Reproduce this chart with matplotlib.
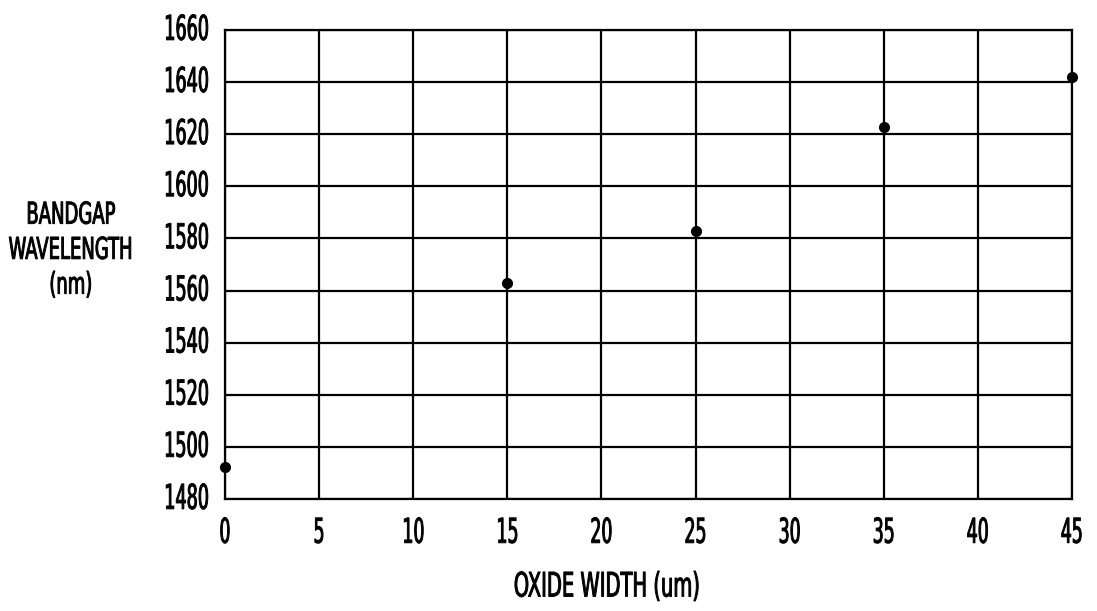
import matplotlib
matplotlib.use("Agg")
import matplotlib.pyplot as plt
from matplotlib import font_manager
from matplotlib.patheffects import AbstractPathEffect
from matplotlib.transforms import Affine2D

# data
oxide_width = [0, 15, 25, 35, 45]
bandgap_nm = [1492.4, 1563, 1583, 1622.7, 1642]
x_ticks = [0, 5, 10, 15, 20, 25, 30, 35, 40, 45]
y_ticks = [1480, 1500, 1520, 1540, 1560, 1580, 1600, 1620, 1640, 1660]


class Squeeze(AbstractPathEffect):
    # reshape the glyphs: the reference lettering is tall and very condensed,
    # strokes a bit heavier like the scanned original
    def __init__(self, sx, sy=1.0, anchor="center", lw=0.7, dy=0.0):
        super().__init__()
        self.sx = sx
        self.sy = sy
        self.anchor = anchor
        self.lw = lw
        self.dy = dy

    def draw_path(self, renderer, gc, tpath, affine, rgbFace=None):
        ext = tpath.get_extents()
        if self.anchor == "right":
            cx = ext.x1
        elif self.anchor == "left":
            cx = ext.x0
        else:
            cx = (ext.x0 + ext.x1) / 2
        cy = (ext.y0 + ext.y1) / 2
        aff = (Affine2D().translate(-cx, -cy).scale(self.sx, self.sy).translate(cx, cy)
               + affine + Affine2D().translate(0, self.dy))
        gc0 = renderer.new_gc()
        gc0.copy_properties(gc)
        gc0.set_linewidth(self.lw)
        gc0.set_foreground(rgbFace if rgbFace is not None else "black")
        renderer.draw_path(gc0, tpath, aff, rgbFace)
        gc0.restore()


# condensed face if there is one
cands = [f for f in font_manager.fontManager.ttflist
         if (f.stretch in ("condensed", "semi-condensed", "extra-condensed")
             or "Narrow" in f.name or "Condensed" in f.name)
         and f.weight in (400, "normal", "regular") and f.style == "normal"]
if cands:
    fp = font_manager.FontProperties(fname=cands[0].fname)
else:
    fp = font_manager.FontProperties(family="Liberation Sans")

fig = plt.figure(figsize=(10.97, 6.11), dpi=100)
ax = fig.add_axes([225 / 1097, 1 - 499 / 611, (1072 - 225) / 1097, (499 - 30) / 611])

ax.plot(oxide_width, bandgap_nm, "o", color="black", markersize=7, clip_on=False, zorder=5)

ax.set_xlim(0, 45)
ax.set_ylim(1480, 1660)
ax.set_xticks(x_ticks)
ax.set_yticks(y_ticks)
ax.grid(True, color="black", linewidth=1.6)
for s in ax.spines.values():
    s.set_linewidth(1.6)
ax.tick_params(axis="both", length=0)
ax.tick_params(axis="x", pad=14)
ax.tick_params(axis="y", pad=11)
for lab in ax.get_xticklabels():
    lab.set_fontproperties(fp)
    lab.set_fontsize(22)
    lab.set_path_effects([Squeeze(0.63, 1.12, "center")])
for lab in ax.get_yticklabels():
    lab.set_fontproperties(fp)
    lab.set_fontsize(22)
    lab.set_path_effects([Squeeze(0.64, 1.12, "right", dy=3)])

fig.text(607 / 1097, 1 - 587 / 611, "OXIDE WIDTH (um)", ha="center", va="center",
         fontproperties=fp, fontsize=22, path_effects=[Squeeze(0.71, 1.1)])
fig.text(71 / 1097, 1 - 250 / 611, "BANDGAP\nWAVELENGTH\n(nm)", ha="center", va="center",
         fontproperties=fp, fontsize=16, linespacing=1.95, path_effects=[Squeeze(0.9, 1.35)])

fig.savefig("out.png", dpi=100)
